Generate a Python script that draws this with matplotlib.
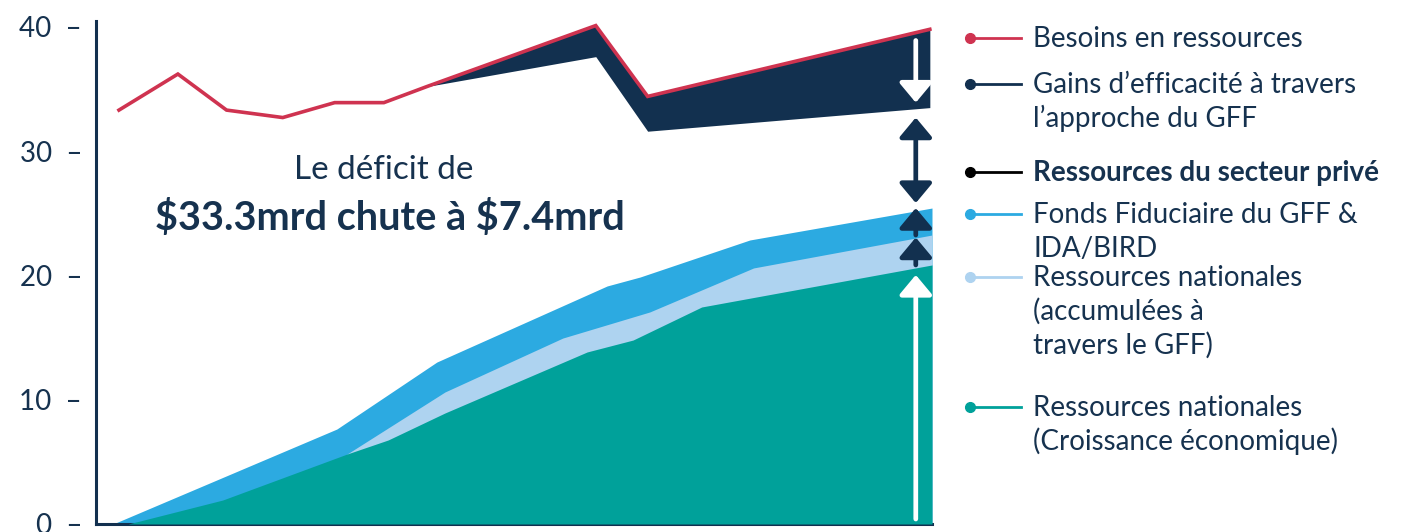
import numpy as np
import matplotlib.pyplot as plt
from matplotlib.lines import Line2D

# ---- data (x = position along the time axis, no labels in the original) ----
red_x = [0, 1.09, 1.99, 3.03, 3.99, 4.9, 5.7, 8.82, 9.78, 15.0]
red_y = [33.3, 36.2, 33.3, 32.7, 33.9, 33.9, 35.2, 40.1, 34.4, 39.8]   # Besoins en ressources

gain_bottom = [35.2, 37.6, 31.6, 33.5]    # besoins moins gains d'efficacité (x = red_x[6:])

blue_x = [-0.11, 4.03, 5.88, 9.03, 9.64, 11.67, 15.04]
blue_y = [0, 7.64, 13.03, 19.15, 19.87, 22.85, 25.42]                 # + Fonds Fiduciaire GFF & IDA/BIRD

light_x = [4.22, 6.03, 8.21, 9.82, 11.74, 15.04]
light_y = [5.63, 10.62, 14.96, 17.06, 20.6, 23.25]                     # + ressources nationales (GFF)

green_x = [0.17, 1.92, 4.22, 4.98, 6.03, 8.66, 9.51, 10.78, 15.04]
green_y = [0, 1.93, 5.63, 6.76, 8.93, 13.84, 14.8, 17.46, 20.84]      # croissance économique

yticks = [0, 10, 20, 30, 40]

legend_labels = [
    ["Besoins en ressources"],
    ["Gains d\u2019efficacité à travers", "l\u2019approche du GFF"],
    ["Ressources du secteur privé"],
    ["Fonds Fiduciaire du GFF &", "IDA/BIRD"],
    ["Ressources nationales", "(accumulées à", "travers le GFF)"],
    ["Ressources nationales", "(Croissance économique)"],
]

RED = "#cf3350"
NAVY = "#12304f"
BLUE = "#2caae1"
LIGHT = "#aed3f0"
TEAL = "#00a19a"
TXT = "#16324f"
legend_colors = [RED, NAVY, "black", BLUE, LIGHT, TEAL]

plt.rcParams["font.family"] = ["Lato", "DejaVu Sans"]

fig = plt.figure(figsize=(14.21, 5.32), dpi=100)
ax = fig.add_axes([96 / 1421, 8 / 532, 836 / 1421, 503.4 / 532])

# stacked areas, painted back to front
ax.fill_between(blue_x, 0, blue_y, color=BLUE, lw=0, zorder=1)
ax.fill_between(light_x, 0, light_y, color=LIGHT, lw=0, zorder=2)
ax.fill_between(green_x, 0, green_y, color=TEAL, lw=0, zorder=3)

# efficiency gains band under the needs line
ax.fill_between(red_x[6:], gain_bottom, red_y[6:], color=NAVY, lw=0, zorder=4)
ax.plot(red_x, red_y, color=RED, lw=2.6, zorder=5, solid_joinstyle="miter")

# arrows at the right end
xa = 14.74
def arrow(y0, y1, color, style="-|>"):
    ax.annotate("", xy=(xa, y1), xytext=(xa, y0),
                arrowprops=dict(arrowstyle=style + ",head_length=0.6,head_width=0.5",
                                color=color, lw=3.4, shrinkA=0, shrinkB=0,
                                mutation_scale=20),
                zorder=6)

arrow(0.4, green_y[-1] - 0.8, "white")
arrow(green_y[-1], light_y[-1] - 0.2, NAVY)
arrow(light_y[-1], blue_y[-1], NAVY)
arrow(blue_y[-1] + 0.4, gain_bottom[-1] - 0.8, NAVY, "<|-|>")
arrow(red_y[-1] - 0.9, gain_bottom[-1] + 0.4, "white")

ax.text(4.9, 28.5, "Le déficit de", ha="center", va="center",
        fontsize=24, color=TXT)
ax.text(5.01, 24.6, "\\$33.3mrd chute à \\$7.4mrd", ha="center", va="center",
        fontsize=28.5, fontweight="bold", color=TXT)

ax.set_xlim(-0.425, 15.04)
ax.set_ylim(0, 40.5)
ax.set_xticks([])
ax.set_yticks(yticks)
ax.set_yticklabels([f"{v}  \u2013" for v in yticks])
ax.tick_params(axis="y", length=0, pad=10, labelsize=20, labelcolor=TXT)
for s in ["top", "right"]:
    ax.spines[s].set_visible(False)
for s in ["left", "bottom"]:
    ax.spines[s].set_color(NAVY)
    ax.spines[s].set_linewidth(2.2)
ax.patch.set_alpha(0)

# legend drawn by hand, in pixel coordinates
leg = fig.add_axes([0, 0, 1, 1], zorder=-1)
leg.set_xlim(0, 1421)
leg.set_ylim(532, 0)
leg.axis("off")
rows = [38, 84, 172, 214, 277, 407]
for lines, col, y in zip(legend_labels, legend_colors, rows):
    leg.add_line(Line2D([970, 1021], [y, y], color=col, lw=2))
    leg.plot([970], [y], "o", color=col, ms=7)
    bold = lines[0].startswith("Ressources du")
    for i, t in enumerate(lines):
        leg.text(1033, y + i * 34 + 9, t, ha="left", va="baseline", fontsize=20,
                 color=TXT, fontweight="bold" if bold else "normal")

fig.savefig("out.png", dpi=100)
